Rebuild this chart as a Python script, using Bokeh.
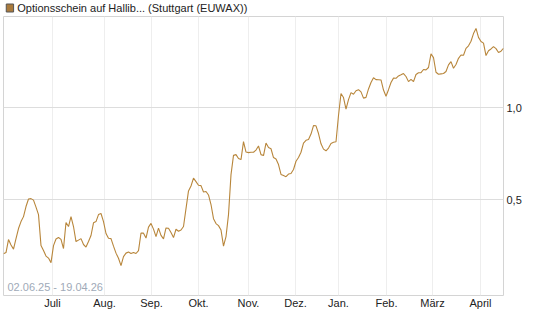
from bokeh.plotting import figure
from bokeh.layouts import column
from bokeh.models import (Range1d, FixedTicker, CustomJSTickFormatter, Label, ColumnDataSource)
from bokeh.core.properties import value
from bokeh.embed import file_html
from bokeh.resources import INLINE

title_text = "Optionsschein auf Hallib... (Stuttgart (EUWAX))"
period_text = "02.06.25 - 19.04.26"

month_labels = ["Juli", "Aug.", "Sep.", "Okt.", "Nov.", "Dez.", "Jan.", "Feb.", "März", "April"]
month_pos = [19.6, 40.4, 59.2, 78.0, 98.0, 116.8, 134.0, 153.2, 171.6, 190.8]

y_ticks = [0.5, 1.0]

prices = [
    0.204, 0.211, 0.282, 0.252, 0.230, 0.287, 0.342, 0.380, 0.407, 0.462,
    0.503, 0.505, 0.497, 0.459, 0.418, 0.249, 0.222, 0.192, 0.181, 0.156,
    0.249, 0.285, 0.293, 0.283, 0.233, 0.375, 0.353, 0.407, 0.353, 0.271,
    0.279, 0.287, 0.255, 0.241, 0.271, 0.304, 0.373, 0.380, 0.418, 0.424,
    0.380, 0.315, 0.289, 0.287, 0.246, 0.208, 0.180, 0.140, 0.189, 0.208,
    0.214, 0.206, 0.212, 0.206, 0.222, 0.317, 0.317, 0.290, 0.350, 0.370,
    0.339, 0.298, 0.344, 0.305, 0.286, 0.345, 0.344, 0.320, 0.293, 0.338,
    0.327, 0.334, 0.353, 0.451, 0.547, 0.574, 0.617, 0.598, 0.578, 0.576,
    0.541, 0.544, 0.525, 0.473, 0.396, 0.369, 0.358, 0.334, 0.246, 0.298,
    0.418, 0.636, 0.741, 0.745, 0.724, 0.718, 0.816, 0.759, 0.756, 0.758,
    0.758, 0.770, 0.792, 0.745, 0.740, 0.808, 0.784, 0.777, 0.729, 0.721,
    0.691, 0.637, 0.631, 0.625, 0.639, 0.642, 0.664, 0.709, 0.729, 0.758,
    0.808, 0.823, 0.827, 0.857, 0.903, 0.902, 0.860, 0.804, 0.775, 0.766,
    0.781, 0.806, 0.812, 0.815, 0.958, 1.078, 1.056, 0.993, 1.045, 1.083,
    1.074, 1.093, 1.099, 1.087, 1.053, 1.057, 1.103, 1.138, 1.164, 1.154,
    1.153, 1.152, 1.097, 1.063, 1.099, 1.138, 1.162, 1.161, 1.174, 1.180,
    1.187, 1.171, 1.143, 1.155, 1.143, 1.182, 1.191, 1.192, 1.209, 1.207,
    1.220, 1.294, 1.274, 1.194, 1.183, 1.185, 1.187, 1.198, 1.234, 1.252,
    1.216, 1.236, 1.270, 1.288, 1.287, 1.324, 1.338, 1.363, 1.405, 1.433,
    1.384, 1.362, 1.353, 1.285, 1.311, 1.321, 1.334, 1.323, 1.302, 1.309,
    1.325,
]
idx = list(range(len(prices)))

line_color = "#b8863b"
font = "Liberation Sans"

# ---- header (legend square + title) ----
h = figure(width=545, height=15, output_backend="svg", toolbar_location=None,
           x_range=Range1d(0, 545), y_range=Range1d(15, 0),
           x_axis_type=None, y_axis_type=None,
           min_border=0, min_border_left=0, min_border_right=0, min_border_top=0, min_border_bottom=0)
h.outline_line_color = None
h.xgrid.visible = False
h.ygrid.visible = False
h.rect(x=[7], y=[7.5], width=8, height=8, fill_color="#a97a3c", line_color="#555555", line_width=1)
h.text(x=[15], y=[7.5], text=[title_text], text_font=value(font), text_font_size="11px",
       text_color="#222222", text_baseline="middle", text_align="left")

# ---- main chart ----
p = figure(width=545, height=311, output_backend="svg", toolbar_location=None,
           x_range=Range1d(0, len(prices) - 1), y_range=Range1d(-0.023, 1.498),
           y_axis_location="right",
           min_border_left=3, min_border_right=42, min_border_top=1, min_border_bottom=31)

p.background_fill_color = "white"
p.border_fill_color = "white"
p.outline_line_color = "#d4d4d4"
p.outline_line_width = 1

src = ColumnDataSource(dict(x=idx, y=prices))
p.line("x", "y", source=src, line_color=line_color, line_width=1.1)

# x axis
p.xaxis.ticker = FixedTicker(ticks=month_pos)
p.xaxis.formatter = CustomJSTickFormatter(args=dict(pos=month_pos, labels=month_labels), code="""
    let best = -1, bd = 1e9;
    for (let i = 0; i < pos.length; i++) { const d = Math.abs(pos[i] - tick); if (d < bd) { bd = d; best = i; } }
    return bd < 0.01 ? labels[best] : "";
""")
p.xaxis.axis_line_color = None
p.xaxis.major_tick_line_color = None
p.xaxis.minor_tick_line_color = None
p.xaxis.major_tick_out = 0
p.xaxis.major_tick_in = 0
p.xaxis.minor_tick_out = 0
p.xaxis.major_label_standoff = 1
p.xaxis.major_label_text_font = font
p.xaxis.major_label_text_font_size = "11px"
p.xaxis.major_label_text_color = "#222222"

# y axis (right)
p.yaxis.ticker = FixedTicker(ticks=y_ticks)
p.yaxis.formatter = CustomJSTickFormatter(code="return tick.toFixed(1).replace('.', ',');")
p.yaxis.axis_line_color = None
p.yaxis.major_tick_line_color = None
p.yaxis.minor_tick_line_color = None
p.yaxis.major_tick_out = 0
p.yaxis.major_tick_in = 0
p.yaxis.minor_tick_out = 0
p.yaxis.major_label_standoff = 3
p.yaxis.major_label_text_font = font
p.yaxis.major_label_text_font_size = "11px"
p.yaxis.major_label_text_color = "#222222"

p.xgrid.grid_line_color = "#eeeeee"
p.xgrid.grid_line_width = 1
p.ygrid.grid_line_color = "#dddddd"
p.ygrid.grid_line_width = 1

p.add_layout(Label(x=4, y=3, x_units="screen", y_units="screen", text=period_text,
                   text_font=font, text_font_size="11px", text_color="#a0aab8"))

layout = column(h, p, spacing=0)
open("out.html", "w").write(file_html(layout, INLINE))
